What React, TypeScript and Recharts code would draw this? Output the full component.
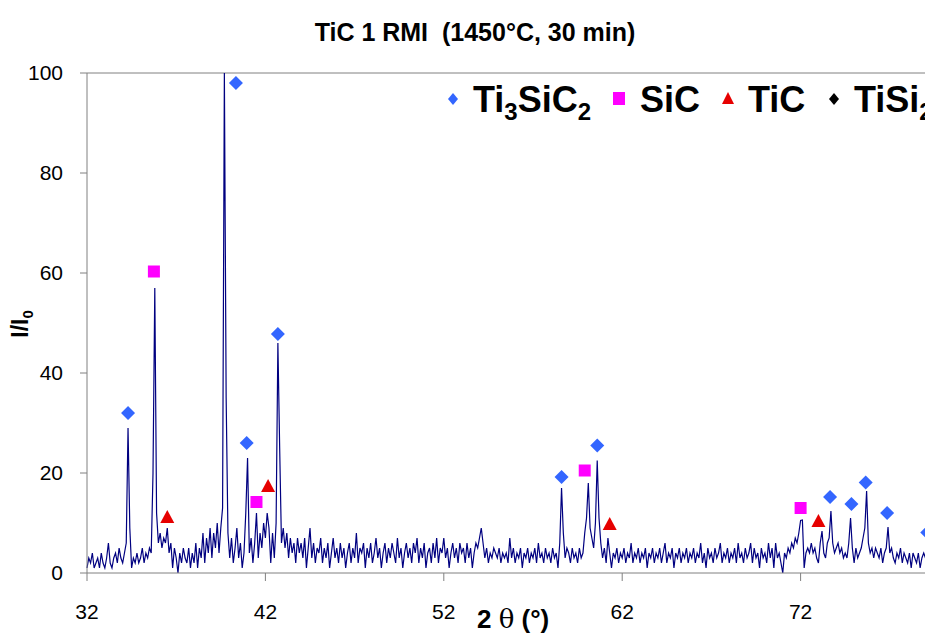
import { ComposedChart, Line, ReferenceLine, Scatter, XAxis, YAxis } from "recharts";

// XRD scan, 2θ from 32° in 0.1° steps
const SCAN_START = 32;
const SCAN_STEP = 0.1;
const intensity = [
  1, 3, 2, 4, 1, 2, 3, 1, 4, 2, 1, 3, 6, 2, 1, 3, 4, 2, 5, 3,
  2, 4, 6, 29, 9, 1, 3, 2, 4, 2, 3, 5, 2, 4, 3, 5, 4, 20, 57, 12,
  6, 8, 5, 7, 6, 9, 4, 6, 1, 5, 3, 0, 4, 2, 5, 3, 2, 5, 1, 4,
  2, 6, 1, 5, 3, 8, 2, 7, 4, 9, 3, 8, 5, 10, 4, 9, 13, 100, 35, 8,
  3, 7, 2, 5, 9, 3, 6, 1, 4, 12, 23, 4, 7, 2, 6, 12, 3, 8, 5, 10,
  7, 12, 9, 2, 8, 3, 10, 46, 25, 6, 9, 5, 8, 3, 7, 4, 6, 2, 7, 4,
  6, 3, 7, 1, 5, 9, 3, 6, 2, 5, 4, 7, 2, 5, 3, 6, 1, 4, 7, 3,
  5, 2, 6, 3, 5, 1, 4, 6, 2, 5, 3, 8, 2, 5, 4, 6, 1, 5, 3, 6,
  2, 4, 7, 3, 5, 1, 4, 6, 2, 5, 3, 6, 4, 2, 7, 3, 5, 1, 4, 6,
  3, 5, 2, 6, 4, 7, 2, 5, 3, 6, 1, 4, 5, 2, 6, 3, 7, 2, 5, 4,
  7, 3, 5, 1, 4, 6, 3, 5, 2, 6, 4, 5, 2, 6, 3, 5, 1, 4, 6, 5,
  7, 9, 6, 3, 5, 2, 4, 3, 5, 4, 3, 5, 2, 4, 3, 4, 2, 7, 3, 5,
  2, 4, 3, 5, 1, 4, 3, 5, 2, 4, 3, 5, 2, 6, 3, 4, 2, 5, 3, 4,
  2, 5, 3, 4, 1, 6, 17, 8, 3, 5, 4, 2, 5, 3, 4, 2, 5, 3, 4, 8,
  11, 18, 9, 7, 5, 10, 22.5, 11, 6, 3, 5, 2, 7, 4, 1, 4, 3, 5, 2, 4,
  3, 5, 2, 4, 3, 6, 2, 4, 3, 5, 2, 4, 3, 5, 1, 4, 3, 5, 2, 4,
  3, 5, 2, 4, 6, 2, 4, 3, 5, 1, 4, 3, 5, 2, 4, 3, 5, 2, 4, 3,
  5, 2, 4, 3, 6, 2, 4, 1, 5, 3, 4, 2, 5, 3, 4, 6, 2, 4, 3, 5,
  2, 4, 3, 5, 2, 6, 3, 4, 2, 5, 3, 4, 6, 2, 5, 3, 4, 1, 5, 3,
  4, 2, 6, 3, 5, 1, 6, 3, 4, 2, 0, 4, 3, 5, 4, 6, 5, 7, 6, 8,
  10.5, 10.6, 1, 4, 5, 4, 6, 4, 5, 3, 2, 6, 8.4, 4, 3, 6, 7, 12.4, 6, 4,
  5, 6, 4, 5, 3, 4, 3, 6, 11, 5, 2, 5, 3, 4, 5, 7, 9, 16.4, 6, 4,
  5, 3, 5, 4, 3, 5, 2, 4, 5, 9.2, 4, 5, 3, 2, 4, 3, 5, 2, 4, 3,
  2, 4, 1, 4, 3, 2, 4, 1, 3, 4, 3, 4, 5.4, 3, 2, 3, 1, 3, 2, 4,
];

// phase markers (2θ, I/I0); TiSi2 is only named in the legend
const ti3sic2Peaks = [
  { x: 34.3, i: 32 },
  { x: 40.35, i: 98 },
  { x: 40.95, i: 26 },
  { x: 42.7, i: 47.8 },
  { x: 58.6, i: 19.2 },
  { x: 60.6, i: 25.5 },
  { x: 73.65, i: 15.2 },
  { x: 74.85, i: 13.8 },
  { x: 75.65, i: 18.1 },
  { x: 76.85, i: 12 },
  { x: 79.1, i: 8.1 },
];
const sicPeaks = [
  { x: 35.75, i: 60.3 },
  { x: 41.5, i: 14.2 },
  { x: 59.9, i: 20.5 },
  { x: 72.0, i: 13 },
];
const ticPeaks = [
  { x: 36.5, i: 11.2 },
  { x: 42.15, i: 17.4 },
  { x: 61.3, i: 9.8 },
  { x: 73.0, i: 10.4 },
];

const xTicks = [32, 42, 52, 62, 72];
const yTicks = [0, 20, 40, 60, 80, 100];

const scan = intensity.map((i, k) => ({
  x: Math.round((SCAN_START + k * SCAN_STEP) * 100) / 100,
  i,
}));

const FONT = "'Liberation Sans', Arial, sans-serif";
const AXIS = "#808080";

function Diamond(props: any) {
  const { cx, cy } = props;
  const r = 7;
  return (
    <polygon
      points={`${cx},${cy - r} ${cx + r},${cy} ${cx},${cy + r} ${cx - r},${cy}`}
      fill="#3366ff"
    />
  );
}

function Square(props: any) {
  const { cx, cy } = props;
  return <rect x={cx - 6} y={cy - 6} width={12} height={12} fill="#ff00ff" />;
}

function Triangle(props: any) {
  const { cx, cy } = props;
  return (
    <polygon
      points={`${cx},${cy - 7} ${cx + 7},${cy + 6} ${cx - 7},${cy + 6}`}
      fill="#e60000"
    />
  );
}

function Overlay() {
  return (
    <svg
      width={925}
      height={627}
      style={{ position: "absolute", left: 0, top: 0, pointerEvents: "none" }}
      fontFamily={FONT}
    >
      <text x={467} y={33} textAnchor="middle" fontSize={25} fontWeight="bold" xmlSpace="preserve">
        TiC 1 RMI  (1450°C, 30 min)
      </text>
      <text
        transform="translate(20 316) rotate(-90)"
        textAnchor="middle"
        fontSize={23}
        fontWeight="bold"
      >
        I/I<tspan fontSize={15} dy={5}>0</tspan>
      </text>
      <text x={469} y={620} fontSize={26} fontWeight="bold" xmlSpace="preserve">
        2 <tspan fontFamily="'DejaVu Serif', serif" fontWeight="normal" fontSize={26}>θ</tspan> (°)
      </text>

      <polygon points="445,85 450,91 445,97 440,91" fill="#3366ff" />
      <text x={465} y={104} fontSize={36} fontWeight="bold">
        Ti<tspan fontSize={24} dy={8}>3</tspan>
        <tspan dy={-8}>SiC</tspan>
        <tspan fontSize={24} dy={8}>2</tspan>
      </text>
      <rect x={605} y={84} width={12} height={13} fill="#ff00ff" />
      <text x={632} y={104} fontSize={36} fontWeight="bold">SiC</text>
      <polygon points="720,84 726,96 714,96" fill="#e60000" />
      <text x={740} y={104} fontSize={36} fontWeight="bold">TiC</text>
      <polygon points="826,85 831,91 826,97 821,91" fill="#000" />
      <text x={846} y={104} fontSize={36} fontWeight="bold">
        TiSi<tspan fontSize={24} dy={8}>2</tspan>
      </text>
    </svg>
  );
}

export default function App() {
  return (
    <div
      style={{
        position: "relative",
        width: 925,
        height: 627,
        overflow: "hidden",
        fontFamily: FONT,
        background: "#fff",
      }}
    >
      <ComposedChart
        width={1000}
        height={627}
        data={scan}
        margin={{ top: 65, right: 29, bottom: 22, left: 19 }}
      >
        <XAxis
          dataKey="x"
          type="number"
          domain={[32, 82]}
          ticks={xTicks}
          height={40}
          stroke={AXIS}
          tickSize={8}
          tickMargin={23}
          tick={{ fill: "#000", fontSize: 21, fontFamily: FONT }}
        />
        <YAxis
          type="number"
          domain={[0, 100]}
          ticks={yTicks}
          width={60}
          stroke={AXIS}
          tickSize={7}
          tickMargin={17}
          tick={{ fill: "#000", fontSize: 21, fontFamily: FONT }}
        />
        <ReferenceLine y={100} stroke={AXIS} strokeWidth={1} />
        <ReferenceLine x={82} stroke={AXIS} strokeWidth={1} />
        <Line
          dataKey="i"
          type="linear"
          stroke="#000080"
          strokeWidth={1.2}
          dot={false}
          isAnimationActive={false}
        />
        <Scatter data={ti3sic2Peaks} dataKey="i" shape={Diamond} isAnimationActive={false} />
        <Scatter data={sicPeaks} dataKey="i" shape={Square} isAnimationActive={false} />
        <Scatter data={ticPeaks} dataKey="i" shape={Triangle} isAnimationActive={false} />
      </ComposedChart>
      <Overlay />
    </div>
  );
}
